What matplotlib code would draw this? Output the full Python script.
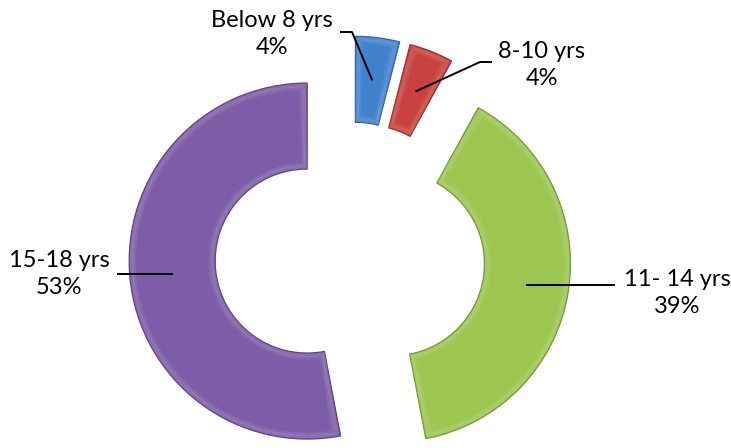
import matplotlib
matplotlib.use("Agg")
import matplotlib.pyplot as plt
from matplotlib.patches import Wedge
import numpy as np

categories = ["Below 8 yrs", "8-10 yrs", "11- 14 yrs", "15-18 yrs"]
values = [4, 4, 39, 53]
colors = ["#4281CC", "#C8413E", "#9CC64F", "#7D5DA7"]
edge_colors = ["#34659F", "#952F2C", "#759738", "#5E4486"]

W, H = 731, 448
fig = plt.figure(figsize=(W / 100, H / 100), dpi=100)
ax = fig.add_axes([0, 0, 1, 1])

R = 178
ring = 86
center = (350, H - 257)
wedges, _ = ax.pie(values, colors=colors, startangle=90, counterclock=False,
                   radius=R, center=center, explode=[43] * 4,
                   wedgeprops=dict(width=ring, edgecolor="none"))

# soft bevel-like highlight: slightly inset outlines in a lighter tone
for w, ec in zip(wedges, edge_colors):
    w.set_edgecolor(ec)
    w.set_linewidth(0.9)
    rmid = w.r - w.width / 2
    for inset, a in [(2.5, 0.12), (5, 0.07)]:
        dth = np.rad2deg(inset / rmid)
        hl = Wedge(w.center, w.r - inset, w.theta1 + dth, w.theta2 - dth,
                   width=w.width - 2 * inset, facecolor="none",
                   edgecolor="white", linewidth=2.5, alpha=a, zorder=w.zorder + 0.1)
        ax.add_patch(hl)

ax.set_xlim(0, W)
ax.set_ylim(0, H)
ax.set_aspect("equal")
ax.axis("off")

# label layout (image pixel coords): text block center, elbow points (None y = level with anchor)
text_pos = [(272, 34), (542, 65), (677, 293), (59, 274)]
elbows = [[(340, 32), (352, 32)], [(492, 62), (480, 62)], [(615, None)], [(117, None)]]

fs = 17
for w, cat, val, (tx, ty), el in zip(wedges, categories, values, text_pos, elbows):
    mid = np.deg2rad((w.theta1 + w.theta2) / 2)
    rmid = w.r - w.width / 2
    ax_x = w.center[0] + rmid * np.cos(mid)
    ax_y = w.center[1] + rmid * np.sin(mid)
    pts = [(x, ax_y if y is None else H - y) for x, y in el] + [(ax_x, ax_y)]
    ax.plot([p[0] for p in pts], [p[1] for p in pts], color="black", lw=1.4,
            solid_capstyle="butt", zorder=5)
    ax.text(tx, H - ty, f"{cat}\n{val}%", ha="center", va="center",
            fontsize=fs, family="Lato", linespacing=1.32)

fig.savefig("out.png", dpi=100)
